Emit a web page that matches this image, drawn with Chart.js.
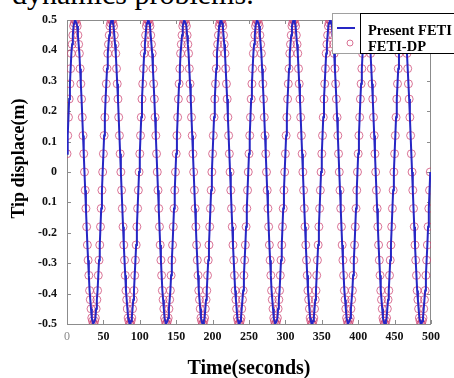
<!DOCTYPE html>
<html lang="en">
<head>
  <meta charset="UTF-8" />
  <title>Tip displacement</title>
  <style>
    body { margin: 0; background: #fff; overflow: hidden; }
    #wrap { position: relative; width: 454px; height: 378px; }
    #caption { position: absolute; left: 12px; top: -21px; font: 30px/1 "Liberation Serif", serif; color: #000; white-space: nowrap; }
    canvas { position: absolute; left: 0; top: 0; }
  </style>
</head>
<body>

  <div id="wrap">
    <div id="caption">dynamics problems.</div>
    <canvas id="tipChart" width="454" height="378"></canvas>
  </div>

  <script src="https://cdn.jsdelivr.net/npm/chart.js"></script>

  <script>
    // tip displacement (m), one sample per second from t = 0 s
    // both solutions lie on top of each other in the figure
    const timeStep = 1;
    const tipDisplacement = [
      0.06,0.12,0.18,0.24,0.29,0.34,0.39,0.42,0.45,0.48,0.49,0.5,0.5,0.49,0.48,0.45,0.42,0.39,0.34,0.29,0.24,0.18,0.12,0.06,0,-0.06,-0.12,-0.18,-0.24,-0.29,-0.34,-0.39,-0.42,-0.45,-0.48,-0.49,-0.5,-0.5,-0.49,-0.48,-0.45,-0.42,-0.39,-0.34,-0.29,-0.24,-0.18,-0.12,-0.06,0,
      0.06,0.12,0.18,0.24,0.29,0.34,0.39,0.42,0.45,0.48,0.49,0.5,0.5,0.49,0.48,0.45,0.42,0.39,0.34,0.29,0.24,0.18,0.12,0.06,0,-0.06,-0.12,-0.18,-0.24,-0.29,-0.34,-0.39,-0.42,-0.45,-0.48,-0.49,-0.5,-0.5,-0.49,-0.48,-0.45,-0.42,-0.39,-0.34,-0.29,-0.24,-0.18,-0.12,-0.06,0,
      0.06,0.12,0.18,0.24,0.29,0.34,0.39,0.42,0.45,0.48,0.49,0.5,0.5,0.49,0.48,0.45,0.42,0.39,0.34,0.29,0.24,0.18,0.12,0.06,0,-0.06,-0.12,-0.18,-0.24,-0.29,-0.34,-0.39,-0.42,-0.45,-0.48,-0.49,-0.5,-0.5,-0.49,-0.48,-0.45,-0.42,-0.39,-0.34,-0.29,-0.24,-0.18,-0.12,-0.06,0,
      0.06,0.12,0.18,0.24,0.29,0.34,0.39,0.42,0.45,0.48,0.49,0.5,0.5,0.49,0.48,0.45,0.42,0.39,0.34,0.29,0.24,0.18,0.12,0.06,0,-0.06,-0.12,-0.18,-0.24,-0.29,-0.34,-0.39,-0.42,-0.45,-0.48,-0.49,-0.5,-0.5,-0.49,-0.48,-0.45,-0.42,-0.39,-0.34,-0.29,-0.24,-0.18,-0.12,-0.06,0,
      0.06,0.12,0.18,0.24,0.29,0.34,0.39,0.42,0.45,0.48,0.49,0.5,0.5,0.49,0.48,0.45,0.42,0.39,0.34,0.29,0.24,0.18,0.12,0.06,0,-0.06,-0.12,-0.18,-0.24,-0.29,-0.34,-0.39,-0.42,-0.45,-0.48,-0.49,-0.5,-0.5,-0.49,-0.48,-0.45,-0.42,-0.39,-0.34,-0.29,-0.24,-0.18,-0.12,-0.06,0,
      0.06,0.12,0.18,0.24,0.29,0.34,0.39,0.42,0.45,0.48,0.49,0.5,0.5,0.49,0.48,0.45,0.42,0.39,0.34,0.29,0.24,0.18,0.12,0.06,0,-0.06,-0.12,-0.18,-0.24,-0.29,-0.34,-0.39,-0.42,-0.45,-0.48,-0.49,-0.5,-0.5,-0.49,-0.48,-0.45,-0.42,-0.39,-0.34,-0.29,-0.24,-0.18,-0.12,-0.06,0,
      0.06,0.12,0.18,0.24,0.29,0.34,0.39,0.42,0.45,0.48,0.49,0.5,0.5,0.49,0.48,0.45,0.42,0.39,0.34,0.29,0.24,0.18,0.12,0.06,0,-0.06,-0.12,-0.18,-0.24,-0.29,-0.34,-0.39,-0.42,-0.45,-0.48,-0.49,-0.5,-0.5,-0.49,-0.48,-0.45,-0.42,-0.39,-0.34,-0.29,-0.24,-0.18,-0.12,-0.06,0,
      0.06,0.12,0.18,0.24,0.29,0.34,0.39,0.42,0.45,0.48,0.49,0.5,0.5,0.49,0.48,0.45,0.42,0.39,0.34,0.29,0.24,0.18,0.12,0.06,0,-0.06,-0.12,-0.18,-0.24,-0.29,-0.34,-0.39,-0.42,-0.45,-0.48,-0.49,-0.5,-0.5,-0.49,-0.48,-0.45,-0.42,-0.39,-0.34,-0.29,-0.24,-0.18,-0.12,-0.06,0,
      0.06,0.12,0.18,0.24,0.29,0.34,0.39,0.42,0.45,0.48,0.49,0.5,0.5,0.49,0.48,0.45,0.42,0.39,0.34,0.29,0.24,0.18,0.12,0.06,0,-0.06,-0.12,-0.18,-0.24,-0.29,-0.34,-0.39,-0.42,-0.45,-0.48,-0.49,-0.5,-0.5,-0.49,-0.48,-0.45,-0.42,-0.39,-0.34,-0.29,-0.24,-0.18,-0.12,-0.06,0,
      0.06,0.12,0.18,0.24,0.29,0.34,0.39,0.42,0.45,0.48,0.49,0.5,0.5,0.49,0.48,0.45,0.42,0.39,0.34,0.29,0.24,0.18,0.12,0.06,0,-0.06,-0.12,-0.18,-0.24,-0.29,-0.34,-0.39,-0.42,-0.45,-0.48,-0.49,-0.5,-0.5,-0.49,-0.48,-0.45,-0.42,-0.39,-0.34,-0.29,-0.24,-0.18,-0.12,-0.06,0
    ];
    const seriesNames = ["Present FETI", "FETI-DP"];
    const xTickLabels = ["0", "50", "100", "150", "200", "250", "300", "350", "400", "450", "500"];
    // bottom to top, as printed (the -0.1 label has no minus sign)
    const yTickLabels = ["-0.5", "-0.4", "-0.3", "-0.2", "0.1", "0", "0.1", "0.2", "0.3", "0.4", "0.5"];

    const lineBlue = "#2626c4";
    const markerRed = "rgba(205,70,115,0.75)";
    const serif = '"Liberation Serif", "Times New Roman", serif';

    const points = tipDisplacement.map((v, i) => ({ x: i * timeStep, y: v }));

    // box round the plot, inward ticks, and the pasted-over legend
    const framePlugin = {
      id: "frame",
      beforeDatasetsDraw(chart) {
        const { ctx, chartArea: a, scales: { x, y } } = chart;
        ctx.save();
        ctx.strokeStyle = "#8c8c8c";
        ctx.lineWidth = 1;
        ctx.strokeRect(a.left + 0.5, a.top + 0.5, a.right - a.left - 1, a.bottom - a.top);
        ctx.beginPath();
        x.ticks.forEach(t => {
          const px = Math.round(x.getPixelForValue(t.value)) + 0.5;
          ctx.moveTo(px, a.bottom); ctx.lineTo(px, a.bottom - 4);
          ctx.moveTo(px, a.top); ctx.lineTo(px, a.top + 4);
        });
        y.ticks.forEach(t => {
          const py = Math.round(y.getPixelForValue(t.value)) + 0.5;
          ctx.moveTo(a.left, py); ctx.lineTo(a.left + 4, py);
          ctx.moveTo(a.right, py); ctx.lineTo(a.right - 4, py);
        });
        ctx.stroke();
        ctx.restore();
      },
      afterDraw(chart) {
        const { ctx, chartArea: a } = chart;
        const top = a.top - 7, h = 40;
        const outerLeft = a.right - 99, innerLeft = a.right - 71;
        ctx.save();
        ctx.fillStyle = "#fff";
        ctx.fillRect(outerLeft, top, 140, h);
        ctx.strokeStyle = "#a0a0a0";
        ctx.lineWidth = 1;
        ctx.strokeRect(outerLeft + 0.5, top + 0.5, 140, h);
        ctx.strokeStyle = lineBlue;
        ctx.lineWidth = 2;
        ctx.beginPath();
        ctx.moveTo(outerLeft + 5, top + 15); ctx.lineTo(outerLeft + 23, top + 15);
        ctx.stroke();
        ctx.strokeStyle = markerRed;
        ctx.lineWidth = 1;
        ctx.beginPath();
        ctx.arc(outerLeft + 18, top + 30, 3, 0, Math.PI * 2);
        ctx.stroke();
        ctx.fillStyle = "#fff";
        ctx.fillRect(innerLeft, top, 120, h);
        ctx.strokeStyle = "#000";
        ctx.strokeRect(innerLeft + 0.5, top + 0.5, 120, h);
        ctx.fillStyle = "#000";
        ctx.font = "bold 14.5px " + serif;
        ctx.textBaseline = "alphabetic";
        ctx.fillText(chart.data.datasets[0].label, innerLeft + 8, top + 22);
        ctx.fillText(chart.data.datasets[1].label, innerLeft + 8, top + 38);
        ctx.restore();
      }
    };

    new Chart(document.getElementById("tipChart"), {
      type: "line",
      data: {
        datasets: [
          { label: seriesNames[0], data: points, borderColor: lineBlue, borderWidth: 2, pointRadius: 0, tension: 0, order: 0 },
          { label: seriesNames[1], data: points, showLine: false, pointStyle: "circle", pointRadius: 4,
            pointBorderWidth: 1, pointBorderColor: markerRed, pointBackgroundColor: "rgba(0,0,0,0)", order: 1 }
        ]
      },
      options: {
        responsive: false,
        animation: false,
        layout: { padding: { top: 20, right: 23, left: 0, bottom: 0 } },
        plugins: { legend: { display: false }, tooltip: { enabled: false } },
        scales: {
          x: {
            type: "linear", min: 0, max: 500,
            grid: { display: false, drawTicks: false },
            border: { display: false },
            ticks: {
              stepSize: 50, padding: 6, maxRotation: 0,
              callback: (v, i) => xTickLabels[i],
              color: c => c.index === 0 ? "#8a8a8a" : "#111",
              font: c => c.index === 0 ? { family: serif, size: 12 } : { family: serif, size: 12, weight: "bold" }
            },
            title: { display: true, text: "Time(seconds)", color: "#000", font: { family: serif, size: 20, weight: "bold" }, padding: { top: 0, bottom: -3 } },
            afterFit: s => { s.height = 54; }
          },
          y: {
            min: -0.5, max: 0.5,
            grid: { display: false, drawTicks: false },
            border: { display: false },
            ticks: {
              stepSize: 0.1, padding: 10,
              callback: (v, i) => yTickLabels[i],
              color: "#111",
              font: { family: serif, size: 12, weight: "bold" }
            },
            // leading spaces lift the title a little above the axis middle, as in the figure
            title: { display: true, text: "      Tip displace(m)", color: "#000", font: { family: serif, size: 18, weight: "bold" }, padding: { top: 9, bottom: 0 } },
            afterFit: s => { s.width = 67; }
          }
        }
      },
      plugins: [framePlugin]
    });
  </script>

</body>
</html>
